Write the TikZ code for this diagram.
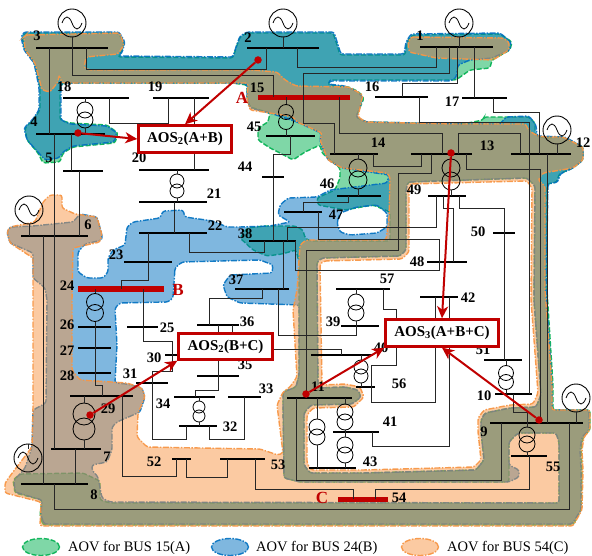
\documentclass[tikz,border=0pt]{standalone}
\usepackage{fontspec}
\setmainfont{Liberation Serif}
\usepackage{xcolor}
\usetikzlibrary{shapes.geometric,arrows.meta,positioning}
\definecolor{aovgreen}{RGB}{0, 176, 80}
\definecolor{aovblue}{RGB}{0, 112, 192}
\definecolor{aovorange}{RGB}{247, 150, 70}
\definecolor{aosred}{RGB}{192, 0, 0}

\begin{document}
\begin{tikzpicture}[
    x=1pt, y=-1pt,
    aovA/.style={fill=aovgreen, fill opacity=.5, draw=aovgreen, draw opacity=.9, line width=1.4pt, dash pattern=on 5pt off 2pt, even odd rule, rounded corners=2.5pt},
    aovB/.style={fill=aovblue, fill opacity=.5, draw=aovblue, draw opacity=.9, line width=1.4pt, dash pattern=on 6pt off 1.5pt on 1.5pt off 1.5pt, even odd rule, rounded corners=2.5pt},
    aovC/.style={fill=aovorange, fill opacity=.5, draw=aovorange, draw opacity=.95, line width=1.4pt, dash pattern=on 6pt off 1.5pt on 1.5pt off 1.5pt, even odd rule, rounded corners=2.5pt},
    wire/.style={draw=black!85, line width=.7pt},
    bus/.style={rectangle, fill=black, inner sep=0pt, minimum height=2.4pt},
    critbus/.style={rectangle, fill=aosred, inner sep=0pt},
    coil/.style={circle, draw=black, line width=.8pt, inner sep=0pt},
    gen/.style={circle, draw=black, line width=.9pt, inner sep=0pt, minimum size=28pt},
    buslabel/.style={font=\fontsize{14.5}{14.5}\selectfont\bfseries, inner sep=0pt},
    critlabel/.style={font=\fontsize{17}{17}\selectfont\bfseries, text=aosred, inner sep=0pt},
    aosbox/.style={rectangle, draw=aosred, fill=white, line width=2.4pt, inner sep=0pt, font=\fontsize{15}{15}\selectfont\bfseries},
    aosdot/.style={circle, fill=aosred, inner sep=0pt, minimum size=7.5pt},
    aosarrow/.style={draw=aosred, line width=2pt, -{Stealth[length=12pt,width=11pt,inset=3.5pt]}},
    legendtext/.style={font=\fontsize{14.5}{14.5}\selectfont, anchor=west, inner sep=0pt}
]
\useasboundingbox (0,0) rectangle (592,556);

% AOV regions, painted half transparent so that the overlaps mix
\draw[aovA]
    (43,525) -- (40,515) -- (42,500) -- (15,493) -- (13,480) -- (20,474) -- (83,473) -- (100,481) -- (100,500) -- (110,503) -- (559,503) -- (559,442) -- (556,433) -- (518,433) -- (509,442) -- (509,482) -- (300,482) -- (284,478) -- (283,403) -- (283,392) -- (296,387) -- (299,375) -- (299,262) -- (296,250) -- (282,254) -- (267,256) -- (253,250) -- (240,238) -- (247,228) -- (265,226) -- (295,226) -- (303,230) -- (305,238) -- (310,241) -- (390,241) -- (390,212) -- (373,205) -- (345,210) -- (318,205) -- (317,198) -- (335,190) -- (340,178) -- (340,168) -- (330,160) -- (322,153) -- (320,145) -- (305,152) -- (293,160) -- (280,153) -- (270,148) -- (258,140) -- (258,128) -- (268,122) -- (270,113) -- (250,107) -- (247,98) -- (247,85) -- (232,83) -- (62,83) -- (60,90) -- (60,120) -- (70,123) -- (107,125) -- (118,133) -- (115,143) -- (73,147) -- (63,153) -- (60,162) -- (43,163) -- (38,153) -- (27,140) -- (25,128) -- (33,120) -- (40,110) -- (40,87) -- (35,63) -- (25,50) -- (22,37) -- (25,33) -- (118,33) -- (124,42) -- (121,53) -- (118,57) -- (233,58) -- (236,48) -- (240,37) -- (247,33) -- (333,33) -- (337,45) -- (340,55) -- (405,55) -- (407,42) -- (412,35) -- (500,34) -- (512,42) -- (510,50) -- (492,60) -- (490,68) -- (470,70) -- (456,80) -- (330,80) -- (328,85) -- (349,87) -- (359,92) -- (364,98) -- (359,110) -- (356,117) -- (366,122) -- (463,124) -- (483,120) -- (484,117) -- (529,117) -- (535,123) -- (535,135) -- (544,138) -- (563,137) -- (583,147) -- (583,160) -- (573,168) -- (559,174) -- (557,182) -- (547,184) -- (547,290) -- (553,385) -- (553,410) -- (590,410) -- (590,430) -- (583,437) -- (581,450) -- (582,470) -- (581,510) -- (573,525) -- cycle
    (408,182) -- (527,178) -- (535,186) -- (534,300) -- (541,395) -- (536,407) -- (510,408) -- (485,413) -- (481,420) -- (481,432) -- (484,460) -- (476,470) -- (363,473) -- (310,473) -- (304,465) -- (304,413) -- (311,405) -- (352,404) -- (361,397) -- (358,390) -- (345,387) -- (318,388) -- (317,262) -- (322,258) -- (400,256) -- (406,250) -- (406,190) -- cycle;
\draw[aovB]
    (44,524) -- (41,515) -- (42,500) -- (15,492) -- (14,480) -- (20,474) -- (25,468) -- (32,447) -- (33,410) -- (46,403) -- (47,300) -- (45,288) -- (33,278) -- (33,253) -- (10,243) -- (7,232) -- (10,227) -- (33,226) -- (73,222) -- (80,214) -- (97,217) -- (102,235) -- (102,240) -- (85,244) -- (78,252) -- (78,272) -- (87,278) -- (103,278) -- (108,272) -- (108,258) -- (113,250) -- (125,245) -- (127,227) -- (133,222) -- (160,218) -- (163,211) -- (183,210) -- (185,217) -- (213,221) -- (227,227) -- (240,227) -- (270,226) -- (290,222) -- (278,215) -- (280,205) -- (288,198) -- (317,197) -- (330,190) -- (387,183) -- (389,175) -- (342,168) -- (328,160) -- (320,142) -- (321,133) -- (297,122) -- (270,113) -- (250,108) -- (247,98) -- (247,84) -- (232,83) -- (72,83) -- (61,84) -- (61,120) -- (70,124) -- (107,126) -- (117,133) -- (114,142) -- (73,146) -- (63,152) -- (59,158) -- (45,160) -- (38,152) -- (27,140) -- (24,128) -- (33,119) -- (39,110) -- (39,87) -- (34,63) -- (24,50) -- (21,37) -- (24,32) -- (119,32) -- (125,42) -- (122,53) -- (118,56) -- (233,57) -- (236,47) -- (240,36) -- (247,32) -- (334,32) -- (338,45) -- (341,54) -- (404,54) -- (406,42) -- (411,34) -- (500,33) -- (511,42) -- (510,50) -- (492,58) -- (470,60) -- (458,65) -- (456,78) -- (450,81) -- (330,81) -- (328,84) -- (345,86) -- (358,92) -- (363,98) -- (359,110) -- (356,117) -- (366,122) -- (463,124) -- (500,124) -- (506,117) -- (529,116) -- (536,125) -- (537,136) -- (565,137) -- (583,147) -- (583,160) -- (573,168) -- (560,174) -- (558,182) -- (548,184) -- (546,290) -- (552,385) -- (552,410) -- (589,410) -- (589,430) -- (582,437) -- (580,450) -- (581,470) -- (581,510) -- (572,524) -- cycle
    (175,268) -- (173,298) -- (168,302) -- (120,303) -- (115,308) -- (117,345) -- (115,383) -- (127,384) -- (142,388) -- (145,397) -- (140,412) -- (117,422) -- (112,427) -- (112,450) -- (107,462) -- (92,465) -- (92,470) -- (98,477) -- (102,498) -- (110,502) -- (559,503) -- (559,442) -- (556,433) -- (518,433) -- (509,442) -- (509,465) -- (519,470) -- (519,477) -- (509,482) -- (300,482) -- (284,478) -- (283,403) -- (283,392) -- (296,387) -- (299,375) -- (299,305) -- (240,303) -- (227,297) -- (223,285) -- (230,275) -- (272,273) -- (273,265) -- (260,260) -- (182,262) -- cycle
    (408,182) -- (527,178) -- (535,186) -- (534,300) -- (541,395) -- (536,407) -- (510,408) -- (485,413) -- (481,420) -- (481,432) -- (484,460) -- (476,470) -- (363,473) -- (310,473) -- (304,465) -- (304,413) -- (311,405) -- (352,404) -- (361,397) -- (358,390) -- (345,387) -- (318,388) -- (317,262) -- (322,258) -- (400,256) -- (406,250) -- (406,190) -- cycle
    (337,223) -- (340,213) -- (357,207) -- (377,205) -- (387,213) -- (387,227) -- (377,233) -- (350,235) -- (340,232) -- cycle;
\draw[aovC]
    (26,35) -- (120,33) -- (124,45) -- (118,54) -- (86,57) -- (84,68) -- (90,70) -- (252,70) -- (277,72) -- (285,80) -- (296,86) -- (349,87) -- (363,95) -- (361,103) -- (358,117) -- (366,122) -- (453,124) -- (526,124) -- (528,130) -- (536,135) -- (544,137) -- (563,137) -- (583,147) -- (583,160) -- (573,168) -- (543,173) -- (538,180) -- (545,186) -- (545,290) -- (552,385) -- (552,410) -- (590,410) -- (590,430) -- (584,437) -- (582,450) -- (583,470) -- (582,510) -- (573,526) -- (40,526) -- (41,502) -- (5,493) -- (5,483) -- (13,472) -- (32,447) -- (33,407) -- (33,258) -- (10,243) -- (7,232) -- (10,227) -- (35,222) -- (43,202) -- (50,195) -- (62,195) -- (62,208) -- (75,214) -- (97,217) -- (102,235) -- (100,242) -- (73,248) -- (72,300) -- (72,370) -- (80,380) -- (127,383) -- (142,388) -- (145,397) -- (138,413) -- (137,437) -- (147,447) -- (200,448) -- (260,449) -- (278,455) -- (283,453) -- (277,405) -- (283,392) -- (290,387) -- (297,377) -- (293,310) -- (297,290) -- (299,260) -- (300,245) -- (306,240) -- (386,240) -- (389,218) -- (390,177) -- (387,173) -- (342,168) -- (328,160) -- (320,140) -- (322,133) -- (297,122) -- (293,117) -- (270,113) -- (250,110) -- (247,100) -- (248,83) -- (62,83) -- (59,75) -- (58,82) -- (50,92) -- (42,90) -- (35,63) -- (25,50) -- (24,37) -- cycle
    (411,37) -- (503,38) -- (509,42) -- (509,50) -- (493,60) -- (436,58) -- (409,52) -- (408,43) -- cycle
    (410,184) -- (527,181) -- (532,188) -- (531,300) -- (538,393) -- (533,404) -- (510,405) -- (484,410) -- (478,418) -- (478,432) -- (481,460) -- (474,467) -- (363,470) -- (311,470) -- (307,463) -- (307,415) -- (313,408) -- (354,407) -- (364,397) -- (360,387) -- (345,384) -- (322,385) -- (320,264) -- (324,261) -- (402,259) -- (409,252) -- (409,190) -- cycle;

% Buses: name/left/right/y/label x/label y
\foreach \nm/\xa/\xb/\yy/\lx/\ly in {
    1/420/493/47/420/36, 2/247/319/48/248/38, 3/36/108/48/37/36, 4/36/105/134/34/122,
    5/63/103/171/49/158, 6/21/88/236/88/225, 7/51/101/449/107/457, 8/21/88/484/94/495,
    9/490/583/423/484/432, 10/495/532/394/484/396, 11/287/352/398/318/387, 12/511/571/154/583/143,
    13/411/472/154/487/146, 14/330/378/154/378/143, 16/375/428/97/372/87, 17/462/507/98/452/102,
    18/63/129/98/64/87, 19/153/209/98/155/87, 20/139/209/170/139/158, 21/139/207/202/214/194,
    22/139/207/233/215/226, 23/124/172/262/116/255, 25/127/158/327/167/328, 26/78/111/327/67/325,
    27/78/111/348/67/351, 28/78/111/373/67/376, 29/70/133/396/108/409, 30/165/178/355/154/358,
    31/136/168/383/130/374, 32/179/217/426/230/427, 33/228/261/397/266/389, 34/174/215/397/163/404,
    35/197/239/376/245/365, 36/197/239/325/247/322, 37/235/289/289/236/280, 38/249/296/241/245/234,
    39/341/379/326/333/322, 40/311/373/355/381/348, 41/333/379/432/390/422, 42/420/458/297/468/298,
    43/309/356/468/370/462, 44/262/284/177/245/167, 45/266/315/136/254/127, 46/337/381/196/327/184,
    47/284/322/212/336/215, 48/427/467/262/417/262, 49/428/466/196/414/190, 50/493/515/233/478/232,
    51/484/522/360/483/350, 52/172/191/459/154/462, 53/220/265/459/278/465, 55/511/547/456/553/467,
    56/356/375/387/399/384, 57/336/390/289/387/279} {
    \node[bus, minimum width={(\xb-\xa)*1pt}] (b\nm) at ({(\xa+\xb)/2},\yy) {};
    \node[buslabel] (lab\nm) at (\lx,\ly) {\nm};
}

% Buses of the three faults
\node[critbus, minimum width=92pt, minimum height=5.5pt] (b15) at (304,97.5) {};
\node[critbus, minimum width=86pt, minimum height=6pt] (b24) at (121,289) {};
\node[critbus, minimum width=50pt, minimum height=5pt] (b54) at (363,499) {};
\node[buslabel] (lab15) at (257,88) {15};
\node[buslabel] (lab24) at (67,286) {24};
\node[buslabel] (lab54) at (399,498) {54};
\node[critlabel] (labA) at (242,98) {A};
\node[critlabel] (labB) at (178,290) {B};
\node[critlabel] (labC) at (322,498) {C};

% Generators
\foreach \nm/\xx/\yy in {1/459/23, 2/283/23, 3/72/23, 6/29/210, 7/28/458, 9/576/398, 12/557/130} {
    \node[gen] (g\nm) at (\xx,\yy) {};
    \draw[wire] (g\nm) -- (g\nm |- b\nm);
    \draw[line width=.8pt] ([xshift=-10pt]g\nm.center) .. controls +(3,-8) and +(-3,-8) .. (g\nm.center) .. controls +(3,8) and +(-3,8) .. ([xshift=10pt]g\nm.center);
}

% Transformers
\foreach \nm/\up/\lo/\xx/\ya/\yb/\rr in {
    18/b18/b4/85/110/120/8, 15/b15/b45/286/112/122/7.5, 20/b20/b21/177/181/191/7,
    14/b14/b46/358/168/180/9, 13/b13/b49/451/168/181/9, 24/b24/b26/95/302/313/8.5,
    29/b29/b7/84/414/429/11, 34/b34/b32/199/407/416/6, 57/b57/b39/356/302/313/8,
    40/b40/b56/361/367/376/7, 43/b11/b43/317/427/437/8, 41/b11/b41/345/412/422/8,
    44/b41/b43/345/445/455/8, 9/b9/b55/527/435/444/8, 51/b51/b10/506/373/382/7.5} {
    \node[coil, minimum size={2*\rr*1pt}] (t\nm a) at (\xx,\ya) {};
    \node[coil, minimum size={2*\rr*1pt}] (t\nm b) at (\xx,\yb) {};
    \draw[wire] (t\nm a) -- (t\nm a |- \up);
    \draw[wire] (t\nm b) -- (t\nm b |- \lo);
}

% Straight lines between two buses
\foreach \xx/\ba/\bb in {49/b3/b4, 474/b1/b17, 194/b19/b20, 71/b4/b5, 54/b4/b7, 79/b5/b6, 43/b6/b8, 75/b7/b8,
    174/b21/b22, 283/b38/b37, 95/b26/b28, 547/b12/b9} {
    \draw[wire] (\xx,0 |- \ba) -- (\xx,0 |- \bb);
}

% Lines with corners
\draw[wire] (72,0 |- b3) -- (72,75) -- (273,75) -- (273,0 |- b15);
\draw[wire] (86,0 |- b3) -- (86,69) -- (266,69) -- (266,0 |- b2);
\draw[wire] (297,0 |- b2) -- (297,67) -- (436,67) -- (436,0 |- b1);
\draw[wire] (449,0 |- b1) -- (449,73) -- (303,73) -- (303,123) -- (334,123) -- (334,0 |- b14);
\draw[wire] (457,0 |- b1) -- (457,83) -- (402,83) -- (402,0 |- b16);
\draw[wire] (419,0 |- b16) -- (419,122) -- (529,122) -- (529,0 |- b10);
\draw[wire] (493,0 |- b17) -- (493,112) -- (539,112) -- (539,0 |- b12);
\draw[wire] (339,0 |- b15) -- (339,133) -- (442,133) -- (442,0 |- b13);
\draw[wire] (458,0 |- b13) -- (458,133) -- (520,133) -- (520,0 |- b12);
\draw[wire] (421,0 |- b13) -- (421,166) -- (373,166) -- (373,0 |- b14);
\draw[wire] (431,0 |- b13) -- (431,173) -- (398,173) -- (398,250) -- (306,250) -- (306,0 |- b11);
\draw[wire] (466,0 |- b13) -- (466,169) -- (540,169) -- (540,0 |- b9);
\draw[wire] (109,0 |- b18) -- (109,123) -- (168,123) -- (168,0 |- b19);
\draw[wire] (148,0 |- b22) -- (148,280) -- (121,280) -- (121,0 |- b24);
\draw[wire] (189,0 |- b22) -- (189,252) -- (264,252) -- (264,0 |- b38);
\draw[wire] (290,0 |- b45) -- (290,154) -- (273,154) -- (273,0 |- b38);
\draw[wire] (287,0 |- b38) -- (287,227) -- (436,227) -- (436,0 |- b49);
\draw[wire] (348,0 |- b46) -- (348,202) -- (303,202) -- (303,0 |- b47);
\draw[wire] (318,0 |- b47) -- (318,239) -- (439,239) -- (439,270) -- (295,270) -- (295,0 |- b38);
\draw[wire] (443,0 |- b49) -- (443,208) -- (453,208) -- (453,0 |- b48);
\draw[wire] (459,0 |- b49) -- (459,208) -- (504,208) -- (504,0 |- b51);
\draw[wire] (262,0 |- b37) -- (262,298) -- (209,298) -- (209,0 |- b36);
\draw[wire] (278,0 |- b37) -- (278,335) -- (356,335) -- (356,0 |- b39);
\draw[wire] (218,0 |- b36) -- (218,390) -- (195,390) -- (195,0 |- b34);
\draw[wire] (232,0 |- b36) -- (232,349) -- (341,349) -- (341,0 |- b40);
\draw[wire] (143,0 |- b24) -- (143,341) -- (172,341) -- (172,0 |- b30);
\draw[wire] (172,0 |- b30) -- (172,371) -- (152,371) -- (152,439) -- (186,439) -- (186,0 |- b32);
\draw[wire] (209,0 |- b32) -- (209,439) -- (244,439) -- (244,0 |- b33);
\draw[wire] (95,0 |- b28) -- (95,385) -- (102,385) -- (102,0 |- b29);
\draw[wire] (122,0 |- b29) -- (122,476) -- (176,476) -- (176,0 |- b52);
\draw[wire] (186,0 |- b52) -- (186,477) -- (227,477) -- (227,0 |- b53);
\draw[wire] (255,0 |- b53) -- (255,489) -- (353,489) -- (353,0 |- b54);
\draw[wire] (375,0 |- b54) -- (375,489) -- (529,489) -- (529,0 |- b55);
\draw[wire] (54,0 |- b8) -- (54,509) -- (569,509) -- (569,0 |- b9);
\draw[wire] (296,0 |- b11) -- (296,480) -- (501,480) -- (501,0 |- b9);
\draw[wire] (383,0 |- b57) -- (383,309) -- (396,309) -- (396,365) -- (371,365) -- (371,0 |- b56);
\draw[wire] (435,0 |- b42) -- (435,402) -- (371,402) -- (371,0 |- b56);
\draw[wire] (449,0 |- b42) -- (449,446) -- (372,446) -- (372,0 |- b41);
\draw[wire] (513,0 |- b10) -- (513,412) -- (527,412) -- (527,0 |- b9);

% AOS boxes
\node[aosbox, minimum width=93pt, minimum height=27pt] (aosAB) at (185,139) {AOS\textsubscript{2}(A+B)};
\node[aosbox, minimum width=94pt, minimum height=26pt] (aosBC) at (225.5,346.5) {AOS\textsubscript{2}(B+C)};
\node[aosbox, minimum width=113pt, minimum height=27pt] (aosABC) at (442,333) {AOS\textsubscript{3}(A+B+C)};

% Red dots and arrows
\foreach \nm/\xx/\yy in {bustwo/258/60, busfour/78/133, busthirteen/451/153, bustwentynine/90/415, buseleven/306/394, busnine/539/420} {
    \node[aosdot] (dot\nm) at (\xx,\yy) {};
}
\draw[aosarrow] (dotbustwo) -- (aosAB.north);
\draw[aosarrow] (dotbusfour) -- (aosAB.west);
\draw[aosarrow] (dotbusthirteen) -- (aosABC.north);
\draw[aosarrow] (dotbustwentynine) -- (aosBC.south west);
\draw[aosarrow] (dotbuseleven) -- (aosABC.south west);
\draw[aosarrow] (dotbusnine) -- (aosABC.south);

% Legend
\node[ellipse, aovA, minimum width=37pt, minimum height=17pt] (legA) at (41,547) {};
\node[ellipse, aovB, minimum width=37pt, minimum height=17pt] (legB) at (230,547) {};
\node[ellipse, aovC, minimum width=37pt, minimum height=17pt] (legC) at (420,547) {};
\node[legendtext] (txtA) at (68,548) {AOV for BUS 15(A)};
\node[legendtext] (txtB) at (256,548) {AOV for BUS 24(B)};
\node[legendtext] (txtC) at (447,548) {AOV for BUS 54(C)};

\end{tikzpicture}
\end{document}
